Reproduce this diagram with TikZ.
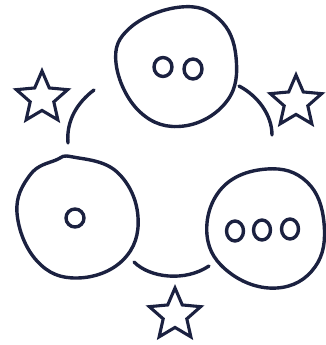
\documentclass[tikz,border=0pt]{standalone}
\usetikzlibrary{calc}
\definecolor{ink}{RGB}{27,33,64}
\tikzset{
  inkline/.style={draw=ink, line width=3.4pt, line cap=round, line join=round},
  dot/.style={inkline},
}
\newcommand\mystar[4]{% cx cy R rot
  \draw[inkline, line width=3.1pt, line join=miter] ($(#1,#2)+({#4-90}:#3)$)
    \foreach \i in {1,...,9}{ -- ($(#1,#2)+({#4-90+36*\i}:{ifthenelse(isodd(\i),0.46*#3,#3)})$)} -- cycle;}
\begin{document}
\begin{tikzpicture}[x=1pt,y=-1pt]
\useasboundingbox (0,0) rectangle (325,345);
% top circle
\draw[inkline] plot[smooth cycle, tension=0.7] coordinates {(181,7) (219,19) (236,57) (227,101) (184,126) (140,112) (116,63) (131,27)};
\draw[dot] (163,67) ellipse [x radius=9, y radius=9.5];
\draw[dot] (193,69) ellipse [x radius=9, y radius=10];
% left circle
\draw[inkline] plot[smooth cycle, tension=0.7] coordinates {(73,157) (117,172) (138,217) (123,260) (77,278) (37,261) (17,213) (30,175) (56,160)};
\draw[dot] (75,218) circle [radius=9];
% right circle
\draw[inkline] plot[smooth cycle, tension=0.7] coordinates {(267,169) (307,182) (324,223) (315,267) (277,288) (230,273) (207,235) (222,188)};
\draw[dot] (235,231) ellipse [x radius=8.5, y radius=10];
\draw[dot] (262,230) ellipse [x radius=8.5, y radius=10];
\draw[dot] (290,229) ellipse [x radius=8.5, y radius=10];
% arcs
\coordinate (a1) at (94,90); \coordinate (a2) at (68,143);
\coordinate (b1) at (239,86); \coordinate (b2) at (272,135);
\coordinate (c1) at (134,262); \coordinate (c2) at (209,266);
\draw[inkline] (a1) .. controls (78,102) and (66,120) .. (a2);
\draw[inkline] (b1) .. controls (258,96) and (272,115) .. (b2);
\draw[inkline] (c1) .. controls (150,278) and (185,282) .. (c2);
% stars
\mystar{42}{98}{27}{0}
\mystar{296}{102}{27}{0}
\mystar{175}{315}{27}{0}
\end{tikzpicture}
\end{document}
